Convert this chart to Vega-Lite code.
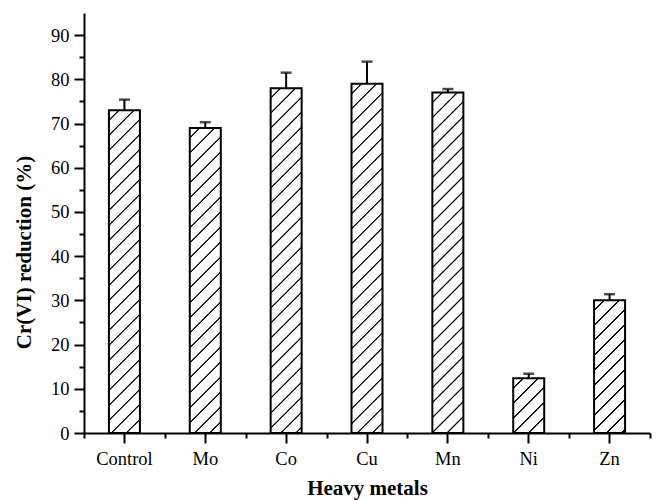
{
  "$schema": "https://vega.github.io/schema/vega-lite/v6.json",
  "width": 566,
  "height": 420,
  "autosize": {"type": "none"},
  "padding": {"left": 84, "top": 13, "right": 9, "bottom": 68},
  "background": "white",
  "config": {
    "view": {"stroke": null},
    "axis": {"grid": false, "domainColor": "#000", "tickColor": "#000", "labelColor": "#000", "titleColor": "#000", "domainWidth": 2, "tickWidth": 2, "labelFont": "Liberation Serif", "labelFontSize": 18.5, "titleFont": "Liberation Serif", "titleFontSize": 21, "titleFontWeight": "bold"}
  },
  "data": {"values": [
    {"metal": "Control", "value": 73.0, "upper": 75.4},
    {"metal": "Mo", "value": 69.0, "upper": 70.3},
    {"metal": "Co", "value": 78.0, "upper": 81.5},
    {"metal": "Cu", "value": 79.0, "upper": 84.0},
    {"metal": "Mn", "value": 77.0, "upper": 77.8},
    {"metal": "Ni", "value": 12.4, "upper": 13.4},
    {"metal": "Zn", "value": 30.0, "upper": 31.4}
  ]},
  "resolve": {"axis": {"x": "independent", "y": "independent"}},
  "layer": [
    {
      "transform": [{"filter": "datum.metal == 'Control'"}],
      "mark": {"type": "bar", "width": 31, "stroke": "#000", "strokeWidth": 2, "fill": {"gradient": "linear", "x1": 0, "y1": 0, "x2": 0.14748, "y2": 1.53526, "stops": [
        {"offset":0.0174,"color":"#fff"},{"offset":0.019,"color":"#000"},{"offset":0.021,"color":"#000"},{"offset":0.0226,"color":"#fff"},
        {"offset":0.0474,"color":"#fff"},{"offset":0.049,"color":"#000"},{"offset":0.051,"color":"#000"},{"offset":0.0526,"color":"#fff"},
        {"offset":0.0774,"color":"#fff"},{"offset":0.079,"color":"#000"},{"offset":0.081,"color":"#000"},{"offset":0.0826,"color":"#fff"},
        {"offset":0.1074,"color":"#fff"},{"offset":0.109,"color":"#000"},{"offset":0.111,"color":"#000"},{"offset":0.1126,"color":"#fff"},
        {"offset":0.1374,"color":"#fff"},{"offset":0.139,"color":"#000"},{"offset":0.141,"color":"#000"},{"offset":0.1426,"color":"#fff"},
        {"offset":0.1674,"color":"#fff"},{"offset":0.169,"color":"#000"},{"offset":0.171,"color":"#000"},{"offset":0.1726,"color":"#fff"},
        {"offset":0.1974,"color":"#fff"},{"offset":0.199,"color":"#000"},{"offset":0.201,"color":"#000"},{"offset":0.2026,"color":"#fff"},
        {"offset":0.2274,"color":"#fff"},{"offset":0.229,"color":"#000"},{"offset":0.231,"color":"#000"},{"offset":0.2326,"color":"#fff"},
        {"offset":0.2574,"color":"#fff"},{"offset":0.259,"color":"#000"},{"offset":0.261,"color":"#000"},{"offset":0.2626,"color":"#fff"},
        {"offset":0.2874,"color":"#fff"},{"offset":0.289,"color":"#000"},{"offset":0.291,"color":"#000"},{"offset":0.2926,"color":"#fff"},
        {"offset":0.3174,"color":"#fff"},{"offset":0.319,"color":"#000"},{"offset":0.321,"color":"#000"},{"offset":0.3226,"color":"#fff"},
        {"offset":0.3474,"color":"#fff"},{"offset":0.349,"color":"#000"},{"offset":0.351,"color":"#000"},{"offset":0.3526,"color":"#fff"},
        {"offset":0.3774,"color":"#fff"},{"offset":0.379,"color":"#000"},{"offset":0.381,"color":"#000"},{"offset":0.3826,"color":"#fff"},
        {"offset":0.4074,"color":"#fff"},{"offset":0.409,"color":"#000"},{"offset":0.411,"color":"#000"},{"offset":0.4126,"color":"#fff"},
        {"offset":0.4374,"color":"#fff"},{"offset":0.439,"color":"#000"},{"offset":0.441,"color":"#000"},{"offset":0.4426,"color":"#fff"},
        {"offset":0.4674,"color":"#fff"},{"offset":0.469,"color":"#000"},{"offset":0.471,"color":"#000"},{"offset":0.4726,"color":"#fff"},
        {"offset":0.4974,"color":"#fff"},{"offset":0.499,"color":"#000"},{"offset":0.501,"color":"#000"},{"offset":0.5026,"color":"#fff"},
        {"offset":0.5274,"color":"#fff"},{"offset":0.529,"color":"#000"},{"offset":0.531,"color":"#000"},{"offset":0.5326,"color":"#fff"},
        {"offset":0.5574,"color":"#fff"},{"offset":0.559,"color":"#000"},{"offset":0.561,"color":"#000"},{"offset":0.5626,"color":"#fff"},
        {"offset":0.5874,"color":"#fff"},{"offset":0.589,"color":"#000"},{"offset":0.591,"color":"#000"},{"offset":0.5926,"color":"#fff"},
        {"offset":0.6174,"color":"#fff"},{"offset":0.619,"color":"#000"},{"offset":0.621,"color":"#000"},{"offset":0.6226,"color":"#fff"},
        {"offset":0.6474,"color":"#fff"},{"offset":0.649,"color":"#000"},{"offset":0.651,"color":"#000"},{"offset":0.6526,"color":"#fff"},
        {"offset":0.6774,"color":"#fff"},{"offset":0.679,"color":"#000"},{"offset":0.681,"color":"#000"},{"offset":0.6826,"color":"#fff"},
        {"offset":0.7074,"color":"#fff"},{"offset":0.709,"color":"#000"},{"offset":0.711,"color":"#000"},{"offset":0.7126,"color":"#fff"}
      ]}},
      "encoding": {
        "x": {"field": "metal", "type": "nominal", "scale": {"domain": ["Control","Mo","Co","Cu","Mn","Ni","Zn"], "paddingInner": 0, "paddingOuter": 0}, "axis": null},
        "y": {"field": "value", "type": "quantitative", "scale": {"domain": [0, 95], "nice": false}, "axis": null}
      }
    },
    {
      "transform": [{"filter": "datum.metal == 'Mo'"}],
      "mark": {"type": "bar", "width": 31, "stroke": "#000", "strokeWidth": 2, "fill": {"gradient": "linear", "x1": 0, "y1": 0, "x2": 0.16481, "y2": 1.62206, "stops": [
        {"offset":0.0174,"color":"#fff"},{"offset":0.019,"color":"#000"},{"offset":0.021,"color":"#000"},{"offset":0.0226,"color":"#fff"},
        {"offset":0.0474,"color":"#fff"},{"offset":0.049,"color":"#000"},{"offset":0.051,"color":"#000"},{"offset":0.0526,"color":"#fff"},
        {"offset":0.0774,"color":"#fff"},{"offset":0.079,"color":"#000"},{"offset":0.081,"color":"#000"},{"offset":0.0826,"color":"#fff"},
        {"offset":0.1074,"color":"#fff"},{"offset":0.109,"color":"#000"},{"offset":0.111,"color":"#000"},{"offset":0.1126,"color":"#fff"},
        {"offset":0.1374,"color":"#fff"},{"offset":0.139,"color":"#000"},{"offset":0.141,"color":"#000"},{"offset":0.1426,"color":"#fff"},
        {"offset":0.1674,"color":"#fff"},{"offset":0.169,"color":"#000"},{"offset":0.171,"color":"#000"},{"offset":0.1726,"color":"#fff"},
        {"offset":0.1974,"color":"#fff"},{"offset":0.199,"color":"#000"},{"offset":0.201,"color":"#000"},{"offset":0.2026,"color":"#fff"},
        {"offset":0.2274,"color":"#fff"},{"offset":0.229,"color":"#000"},{"offset":0.231,"color":"#000"},{"offset":0.2326,"color":"#fff"},
        {"offset":0.2574,"color":"#fff"},{"offset":0.259,"color":"#000"},{"offset":0.261,"color":"#000"},{"offset":0.2626,"color":"#fff"},
        {"offset":0.2874,"color":"#fff"},{"offset":0.289,"color":"#000"},{"offset":0.291,"color":"#000"},{"offset":0.2926,"color":"#fff"},
        {"offset":0.3174,"color":"#fff"},{"offset":0.319,"color":"#000"},{"offset":0.321,"color":"#000"},{"offset":0.3226,"color":"#fff"},
        {"offset":0.3474,"color":"#fff"},{"offset":0.349,"color":"#000"},{"offset":0.351,"color":"#000"},{"offset":0.3526,"color":"#fff"},
        {"offset":0.3774,"color":"#fff"},{"offset":0.379,"color":"#000"},{"offset":0.381,"color":"#000"},{"offset":0.3826,"color":"#fff"},
        {"offset":0.4074,"color":"#fff"},{"offset":0.409,"color":"#000"},{"offset":0.411,"color":"#000"},{"offset":0.4126,"color":"#fff"},
        {"offset":0.4374,"color":"#fff"},{"offset":0.439,"color":"#000"},{"offset":0.441,"color":"#000"},{"offset":0.4426,"color":"#fff"},
        {"offset":0.4674,"color":"#fff"},{"offset":0.469,"color":"#000"},{"offset":0.471,"color":"#000"},{"offset":0.4726,"color":"#fff"},
        {"offset":0.4974,"color":"#fff"},{"offset":0.499,"color":"#000"},{"offset":0.501,"color":"#000"},{"offset":0.5026,"color":"#fff"},
        {"offset":0.5274,"color":"#fff"},{"offset":0.529,"color":"#000"},{"offset":0.531,"color":"#000"},{"offset":0.5326,"color":"#fff"},
        {"offset":0.5574,"color":"#fff"},{"offset":0.559,"color":"#000"},{"offset":0.561,"color":"#000"},{"offset":0.5626,"color":"#fff"},
        {"offset":0.5874,"color":"#fff"},{"offset":0.589,"color":"#000"},{"offset":0.591,"color":"#000"},{"offset":0.5926,"color":"#fff"},
        {"offset":0.6174,"color":"#fff"},{"offset":0.619,"color":"#000"},{"offset":0.621,"color":"#000"},{"offset":0.6226,"color":"#fff"},
        {"offset":0.6474,"color":"#fff"},{"offset":0.649,"color":"#000"},{"offset":0.651,"color":"#000"},{"offset":0.6526,"color":"#fff"}
      ]}},
      "encoding": {
        "x": {"field": "metal", "type": "nominal", "scale": {"domain": ["Control","Mo","Co","Cu","Mn","Ni","Zn"], "paddingInner": 0, "paddingOuter": 0}, "axis": null},
        "y": {"field": "value", "type": "quantitative", "scale": {"domain": [0, 95], "nice": false}, "axis": null}
      }
    },
    {
      "transform": [{"filter": "datum.metal == 'Co'"}],
      "mark": {"type": "bar", "width": 31, "stroke": "#000", "strokeWidth": 2, "fill": {"gradient": "linear", "x1": 0, "y1": 0, "x2": 0.12933, "y2": 1.43849, "stops": [
        {"offset":0.0174,"color":"#fff"},{"offset":0.019,"color":"#000"},{"offset":0.021,"color":"#000"},{"offset":0.0226,"color":"#fff"},
        {"offset":0.0474,"color":"#fff"},{"offset":0.049,"color":"#000"},{"offset":0.051,"color":"#000"},{"offset":0.0526,"color":"#fff"},
        {"offset":0.0774,"color":"#fff"},{"offset":0.079,"color":"#000"},{"offset":0.081,"color":"#000"},{"offset":0.0826,"color":"#fff"},
        {"offset":0.1074,"color":"#fff"},{"offset":0.109,"color":"#000"},{"offset":0.111,"color":"#000"},{"offset":0.1126,"color":"#fff"},
        {"offset":0.1374,"color":"#fff"},{"offset":0.139,"color":"#000"},{"offset":0.141,"color":"#000"},{"offset":0.1426,"color":"#fff"},
        {"offset":0.1674,"color":"#fff"},{"offset":0.169,"color":"#000"},{"offset":0.171,"color":"#000"},{"offset":0.1726,"color":"#fff"},
        {"offset":0.1974,"color":"#fff"},{"offset":0.199,"color":"#000"},{"offset":0.201,"color":"#000"},{"offset":0.2026,"color":"#fff"},
        {"offset":0.2274,"color":"#fff"},{"offset":0.229,"color":"#000"},{"offset":0.231,"color":"#000"},{"offset":0.2326,"color":"#fff"},
        {"offset":0.2574,"color":"#fff"},{"offset":0.259,"color":"#000"},{"offset":0.261,"color":"#000"},{"offset":0.2626,"color":"#fff"},
        {"offset":0.2874,"color":"#fff"},{"offset":0.289,"color":"#000"},{"offset":0.291,"color":"#000"},{"offset":0.2926,"color":"#fff"},
        {"offset":0.3174,"color":"#fff"},{"offset":0.319,"color":"#000"},{"offset":0.321,"color":"#000"},{"offset":0.3226,"color":"#fff"},
        {"offset":0.3474,"color":"#fff"},{"offset":0.349,"color":"#000"},{"offset":0.351,"color":"#000"},{"offset":0.3526,"color":"#fff"},
        {"offset":0.3774,"color":"#fff"},{"offset":0.379,"color":"#000"},{"offset":0.381,"color":"#000"},{"offset":0.3826,"color":"#fff"},
        {"offset":0.4074,"color":"#fff"},{"offset":0.409,"color":"#000"},{"offset":0.411,"color":"#000"},{"offset":0.4126,"color":"#fff"},
        {"offset":0.4374,"color":"#fff"},{"offset":0.439,"color":"#000"},{"offset":0.441,"color":"#000"},{"offset":0.4426,"color":"#fff"},
        {"offset":0.4674,"color":"#fff"},{"offset":0.469,"color":"#000"},{"offset":0.471,"color":"#000"},{"offset":0.4726,"color":"#fff"},
        {"offset":0.4974,"color":"#fff"},{"offset":0.499,"color":"#000"},{"offset":0.501,"color":"#000"},{"offset":0.5026,"color":"#fff"},
        {"offset":0.5274,"color":"#fff"},{"offset":0.529,"color":"#000"},{"offset":0.531,"color":"#000"},{"offset":0.5326,"color":"#fff"},
        {"offset":0.5574,"color":"#fff"},{"offset":0.559,"color":"#000"},{"offset":0.561,"color":"#000"},{"offset":0.5626,"color":"#fff"},
        {"offset":0.5874,"color":"#fff"},{"offset":0.589,"color":"#000"},{"offset":0.591,"color":"#000"},{"offset":0.5926,"color":"#fff"},
        {"offset":0.6174,"color":"#fff"},{"offset":0.619,"color":"#000"},{"offset":0.621,"color":"#000"},{"offset":0.6226,"color":"#fff"},
        {"offset":0.6474,"color":"#fff"},{"offset":0.649,"color":"#000"},{"offset":0.651,"color":"#000"},{"offset":0.6526,"color":"#fff"},
        {"offset":0.6774,"color":"#fff"},{"offset":0.679,"color":"#000"},{"offset":0.681,"color":"#000"},{"offset":0.6826,"color":"#fff"},
        {"offset":0.7074,"color":"#fff"},{"offset":0.709,"color":"#000"},{"offset":0.711,"color":"#000"},{"offset":0.7126,"color":"#fff"},
        {"offset":0.7374,"color":"#fff"},{"offset":0.739,"color":"#000"},{"offset":0.741,"color":"#000"},{"offset":0.7426,"color":"#fff"}
      ]}},
      "encoding": {
        "x": {"field": "metal", "type": "nominal", "scale": {"domain": ["Control","Mo","Co","Cu","Mn","Ni","Zn"], "paddingInner": 0, "paddingOuter": 0}, "axis": null},
        "y": {"field": "value", "type": "quantitative", "scale": {"domain": [0, 95], "nice": false}, "axis": null}
      }
    },
    {
      "transform": [{"filter": "datum.metal == 'Cu'"}],
      "mark": {"type": "bar", "width": 31, "stroke": "#000", "strokeWidth": 2, "fill": {"gradient": "linear", "x1": 0, "y1": 0, "x2": 0.12605, "y2": 1.42026, "stops": [
        {"offset":0.0174,"color":"#fff"},{"offset":0.019,"color":"#000"},{"offset":0.021,"color":"#000"},{"offset":0.0226,"color":"#fff"},
        {"offset":0.0474,"color":"#fff"},{"offset":0.049,"color":"#000"},{"offset":0.051,"color":"#000"},{"offset":0.0526,"color":"#fff"},
        {"offset":0.0774,"color":"#fff"},{"offset":0.079,"color":"#000"},{"offset":0.081,"color":"#000"},{"offset":0.0826,"color":"#fff"},
        {"offset":0.1074,"color":"#fff"},{"offset":0.109,"color":"#000"},{"offset":0.111,"color":"#000"},{"offset":0.1126,"color":"#fff"},
        {"offset":0.1374,"color":"#fff"},{"offset":0.139,"color":"#000"},{"offset":0.141,"color":"#000"},{"offset":0.1426,"color":"#fff"},
        {"offset":0.1674,"color":"#fff"},{"offset":0.169,"color":"#000"},{"offset":0.171,"color":"#000"},{"offset":0.1726,"color":"#fff"},
        {"offset":0.1974,"color":"#fff"},{"offset":0.199,"color":"#000"},{"offset":0.201,"color":"#000"},{"offset":0.2026,"color":"#fff"},
        {"offset":0.2274,"color":"#fff"},{"offset":0.229,"color":"#000"},{"offset":0.231,"color":"#000"},{"offset":0.2326,"color":"#fff"},
        {"offset":0.2574,"color":"#fff"},{"offset":0.259,"color":"#000"},{"offset":0.261,"color":"#000"},{"offset":0.2626,"color":"#fff"},
        {"offset":0.2874,"color":"#fff"},{"offset":0.289,"color":"#000"},{"offset":0.291,"color":"#000"},{"offset":0.2926,"color":"#fff"},
        {"offset":0.3174,"color":"#fff"},{"offset":0.319,"color":"#000"},{"offset":0.321,"color":"#000"},{"offset":0.3226,"color":"#fff"},
        {"offset":0.3474,"color":"#fff"},{"offset":0.349,"color":"#000"},{"offset":0.351,"color":"#000"},{"offset":0.3526,"color":"#fff"},
        {"offset":0.3774,"color":"#fff"},{"offset":0.379,"color":"#000"},{"offset":0.381,"color":"#000"},{"offset":0.3826,"color":"#fff"},
        {"offset":0.4074,"color":"#fff"},{"offset":0.409,"color":"#000"},{"offset":0.411,"color":"#000"},{"offset":0.4126,"color":"#fff"},
        {"offset":0.4374,"color":"#fff"},{"offset":0.439,"color":"#000"},{"offset":0.441,"color":"#000"},{"offset":0.4426,"color":"#fff"},
        {"offset":0.4674,"color":"#fff"},{"offset":0.469,"color":"#000"},{"offset":0.471,"color":"#000"},{"offset":0.4726,"color":"#fff"},
        {"offset":0.4974,"color":"#fff"},{"offset":0.499,"color":"#000"},{"offset":0.501,"color":"#000"},{"offset":0.5026,"color":"#fff"},
        {"offset":0.5274,"color":"#fff"},{"offset":0.529,"color":"#000"},{"offset":0.531,"color":"#000"},{"offset":0.5326,"color":"#fff"},
        {"offset":0.5574,"color":"#fff"},{"offset":0.559,"color":"#000"},{"offset":0.561,"color":"#000"},{"offset":0.5626,"color":"#fff"},
        {"offset":0.5874,"color":"#fff"},{"offset":0.589,"color":"#000"},{"offset":0.591,"color":"#000"},{"offset":0.5926,"color":"#fff"},
        {"offset":0.6174,"color":"#fff"},{"offset":0.619,"color":"#000"},{"offset":0.621,"color":"#000"},{"offset":0.6226,"color":"#fff"},
        {"offset":0.6474,"color":"#fff"},{"offset":0.649,"color":"#000"},{"offset":0.651,"color":"#000"},{"offset":0.6526,"color":"#fff"},
        {"offset":0.6774,"color":"#fff"},{"offset":0.679,"color":"#000"},{"offset":0.681,"color":"#000"},{"offset":0.6826,"color":"#fff"},
        {"offset":0.7074,"color":"#fff"},{"offset":0.709,"color":"#000"},{"offset":0.711,"color":"#000"},{"offset":0.7126,"color":"#fff"},
        {"offset":0.7374,"color":"#fff"},{"offset":0.739,"color":"#000"},{"offset":0.741,"color":"#000"},{"offset":0.7426,"color":"#fff"}
      ]}},
      "encoding": {
        "x": {"field": "metal", "type": "nominal", "scale": {"domain": ["Control","Mo","Co","Cu","Mn","Ni","Zn"], "paddingInner": 0, "paddingOuter": 0}, "axis": null},
        "y": {"field": "value", "type": "quantitative", "scale": {"domain": [0, 95], "nice": false}, "axis": null}
      }
    },
    {
      "transform": [{"filter": "datum.metal == 'Mn'"}],
      "mark": {"type": "bar", "width": 31, "stroke": "#000", "strokeWidth": 2, "fill": {"gradient": "linear", "x1": 0, "y1": 0, "x2": 0.13267, "y2": 1.45678, "stops": [
        {"offset":0.0174,"color":"#fff"},{"offset":0.019,"color":"#000"},{"offset":0.021,"color":"#000"},{"offset":0.0226,"color":"#fff"},
        {"offset":0.0474,"color":"#fff"},{"offset":0.049,"color":"#000"},{"offset":0.051,"color":"#000"},{"offset":0.0526,"color":"#fff"},
        {"offset":0.0774,"color":"#fff"},{"offset":0.079,"color":"#000"},{"offset":0.081,"color":"#000"},{"offset":0.0826,"color":"#fff"},
        {"offset":0.1074,"color":"#fff"},{"offset":0.109,"color":"#000"},{"offset":0.111,"color":"#000"},{"offset":0.1126,"color":"#fff"},
        {"offset":0.1374,"color":"#fff"},{"offset":0.139,"color":"#000"},{"offset":0.141,"color":"#000"},{"offset":0.1426,"color":"#fff"},
        {"offset":0.1674,"color":"#fff"},{"offset":0.169,"color":"#000"},{"offset":0.171,"color":"#000"},{"offset":0.1726,"color":"#fff"},
        {"offset":0.1974,"color":"#fff"},{"offset":0.199,"color":"#000"},{"offset":0.201,"color":"#000"},{"offset":0.2026,"color":"#fff"},
        {"offset":0.2274,"color":"#fff"},{"offset":0.229,"color":"#000"},{"offset":0.231,"color":"#000"},{"offset":0.2326,"color":"#fff"},
        {"offset":0.2574,"color":"#fff"},{"offset":0.259,"color":"#000"},{"offset":0.261,"color":"#000"},{"offset":0.2626,"color":"#fff"},
        {"offset":0.2874,"color":"#fff"},{"offset":0.289,"color":"#000"},{"offset":0.291,"color":"#000"},{"offset":0.2926,"color":"#fff"},
        {"offset":0.3174,"color":"#fff"},{"offset":0.319,"color":"#000"},{"offset":0.321,"color":"#000"},{"offset":0.3226,"color":"#fff"},
        {"offset":0.3474,"color":"#fff"},{"offset":0.349,"color":"#000"},{"offset":0.351,"color":"#000"},{"offset":0.3526,"color":"#fff"},
        {"offset":0.3774,"color":"#fff"},{"offset":0.379,"color":"#000"},{"offset":0.381,"color":"#000"},{"offset":0.3826,"color":"#fff"},
        {"offset":0.4074,"color":"#fff"},{"offset":0.409,"color":"#000"},{"offset":0.411,"color":"#000"},{"offset":0.4126,"color":"#fff"},
        {"offset":0.4374,"color":"#fff"},{"offset":0.439,"color":"#000"},{"offset":0.441,"color":"#000"},{"offset":0.4426,"color":"#fff"},
        {"offset":0.4674,"color":"#fff"},{"offset":0.469,"color":"#000"},{"offset":0.471,"color":"#000"},{"offset":0.4726,"color":"#fff"},
        {"offset":0.4974,"color":"#fff"},{"offset":0.499,"color":"#000"},{"offset":0.501,"color":"#000"},{"offset":0.5026,"color":"#fff"},
        {"offset":0.5274,"color":"#fff"},{"offset":0.529,"color":"#000"},{"offset":0.531,"color":"#000"},{"offset":0.5326,"color":"#fff"},
        {"offset":0.5574,"color":"#fff"},{"offset":0.559,"color":"#000"},{"offset":0.561,"color":"#000"},{"offset":0.5626,"color":"#fff"},
        {"offset":0.5874,"color":"#fff"},{"offset":0.589,"color":"#000"},{"offset":0.591,"color":"#000"},{"offset":0.5926,"color":"#fff"},
        {"offset":0.6174,"color":"#fff"},{"offset":0.619,"color":"#000"},{"offset":0.621,"color":"#000"},{"offset":0.6226,"color":"#fff"},
        {"offset":0.6474,"color":"#fff"},{"offset":0.649,"color":"#000"},{"offset":0.651,"color":"#000"},{"offset":0.6526,"color":"#fff"},
        {"offset":0.6774,"color":"#fff"},{"offset":0.679,"color":"#000"},{"offset":0.681,"color":"#000"},{"offset":0.6826,"color":"#fff"},
        {"offset":0.7074,"color":"#fff"},{"offset":0.709,"color":"#000"},{"offset":0.711,"color":"#000"},{"offset":0.7126,"color":"#fff"},
        {"offset":0.7374,"color":"#fff"},{"offset":0.739,"color":"#000"},{"offset":0.741,"color":"#000"},{"offset":0.7426,"color":"#fff"}
      ]}},
      "encoding": {
        "x": {"field": "metal", "type": "nominal", "scale": {"domain": ["Control","Mo","Co","Cu","Mn","Ni","Zn"], "paddingInner": 0, "paddingOuter": 0}, "axis": null},
        "y": {"field": "value", "type": "quantitative", "scale": {"domain": [0, 95], "nice": false}, "axis": null}
      }
    },
    {
      "transform": [{"filter": "datum.metal == 'Ni'"}],
      "mark": {"type": "bar", "width": 31, "stroke": "#000", "strokeWidth": 2, "fill": {"gradient": "linear", "x1": 0, "y1": 0, "x2": 3.9102, "y2": 6.9122, "stops": [
        {"offset":0.0174,"color":"#fff"},{"offset":0.019,"color":"#000"},{"offset":0.021,"color":"#000"},{"offset":0.0226,"color":"#fff"},
        {"offset":0.0474,"color":"#fff"},{"offset":0.049,"color":"#000"},{"offset":0.051,"color":"#000"},{"offset":0.0526,"color":"#fff"},
        {"offset":0.0774,"color":"#fff"},{"offset":0.079,"color":"#000"},{"offset":0.081,"color":"#000"},{"offset":0.0826,"color":"#fff"},
        {"offset":0.1074,"color":"#fff"},{"offset":0.109,"color":"#000"},{"offset":0.111,"color":"#000"},{"offset":0.1126,"color":"#fff"},
        {"offset":0.1374,"color":"#fff"},{"offset":0.139,"color":"#000"},{"offset":0.141,"color":"#000"},{"offset":0.1426,"color":"#fff"},
        {"offset":0.1674,"color":"#fff"},{"offset":0.169,"color":"#000"},{"offset":0.171,"color":"#000"},{"offset":0.1726,"color":"#fff"}
      ]}},
      "encoding": {
        "x": {"field": "metal", "type": "nominal", "scale": {"domain": ["Control","Mo","Co","Cu","Mn","Ni","Zn"], "paddingInner": 0, "paddingOuter": 0}, "axis": null},
        "y": {"field": "value", "type": "quantitative", "scale": {"domain": [0, 95], "nice": false}, "axis": null}
      }
    },
    {
      "transform": [{"filter": "datum.metal == 'Zn'"}],
      "mark": {"type": "bar", "width": 31, "stroke": "#000", "strokeWidth": 2, "fill": {"gradient": "linear", "x1": 0, "y1": 0, "x2": 0.83585, "y2": 3.5753, "stops": [
        {"offset":0.0174,"color":"#fff"},{"offset":0.019,"color":"#000"},{"offset":0.021,"color":"#000"},{"offset":0.0226,"color":"#fff"},
        {"offset":0.0474,"color":"#fff"},{"offset":0.049,"color":"#000"},{"offset":0.051,"color":"#000"},{"offset":0.0526,"color":"#fff"},
        {"offset":0.0774,"color":"#fff"},{"offset":0.079,"color":"#000"},{"offset":0.081,"color":"#000"},{"offset":0.0826,"color":"#fff"},
        {"offset":0.1074,"color":"#fff"},{"offset":0.109,"color":"#000"},{"offset":0.111,"color":"#000"},{"offset":0.1126,"color":"#fff"},
        {"offset":0.1374,"color":"#fff"},{"offset":0.139,"color":"#000"},{"offset":0.141,"color":"#000"},{"offset":0.1426,"color":"#fff"},
        {"offset":0.1674,"color":"#fff"},{"offset":0.169,"color":"#000"},{"offset":0.171,"color":"#000"},{"offset":0.1726,"color":"#fff"},
        {"offset":0.1974,"color":"#fff"},{"offset":0.199,"color":"#000"},{"offset":0.201,"color":"#000"},{"offset":0.2026,"color":"#fff"},
        {"offset":0.2274,"color":"#fff"},{"offset":0.229,"color":"#000"},{"offset":0.231,"color":"#000"},{"offset":0.2326,"color":"#fff"},
        {"offset":0.2574,"color":"#fff"},{"offset":0.259,"color":"#000"},{"offset":0.261,"color":"#000"},{"offset":0.2626,"color":"#fff"},
        {"offset":0.2874,"color":"#fff"},{"offset":0.289,"color":"#000"},{"offset":0.291,"color":"#000"},{"offset":0.2926,"color":"#fff"},
        {"offset":0.3174,"color":"#fff"},{"offset":0.319,"color":"#000"},{"offset":0.321,"color":"#000"},{"offset":0.3226,"color":"#fff"}
      ]}},
      "encoding": {
        "x": {"field": "metal", "type": "nominal", "scale": {"domain": ["Control","Mo","Co","Cu","Mn","Ni","Zn"], "paddingInner": 0, "paddingOuter": 0}, "axis": null},
        "y": {"field": "value", "type": "quantitative", "scale": {"domain": [0, 95], "nice": false}, "axis": null}
      }
    },
    {
      "mark": {"type": "rule", "color": "#000", "strokeWidth": 2},
      "encoding": {
        "x": {"field": "metal", "type": "nominal", "scale": {"domain": ["Control","Mo","Co","Cu","Mn","Ni","Zn"], "paddingInner": 0, "paddingOuter": 0},
              "axis": {"orient": "bottom", "title": "Heavy metals", "labelAngle": 0, "tickSize": 10, "labelPadding": 6, "titlePadding": 10}},
        "y": {"field": "value", "type": "quantitative", "scale": {"domain": [0, 95], "nice": false},
              "axis": {"orient": "left", "title": "Cr(VI) reduction (%)", "values": [0, 10, 20, 30, 40, 50, 60, 70, 80, 90], "tickSize": 10, "labelPadding": 5, "titlePadding": 16, "titleY": 239}},
        "y2": {"field": "upper"}
      }
    },
    {
      "mark": {"type": "tick", "color": "#000", "size": 11, "thickness": 2.5},
      "encoding": {
        "x": {"field": "metal", "type": "nominal", "scale": {"domain": ["Control","Mo","Co","Cu","Mn","Ni","Zn"], "paddingInner": 0, "paddingOuter": 0},
              "axis": {"orient": "bottom", "title": null, "labels": false, "domain": false, "tickBand": "extent", "tickSize": 5}},
        "y": {"field": "upper", "type": "quantitative", "scale": {"domain": [0, 95], "nice": false},
              "axis": {"orient": "left", "title": null, "labels": false, "domain": false, "values": [5, 15, 25, 35, 45, 55, 65, 75, 85], "tickSize": 5}}
      }
    }
  ]
}
